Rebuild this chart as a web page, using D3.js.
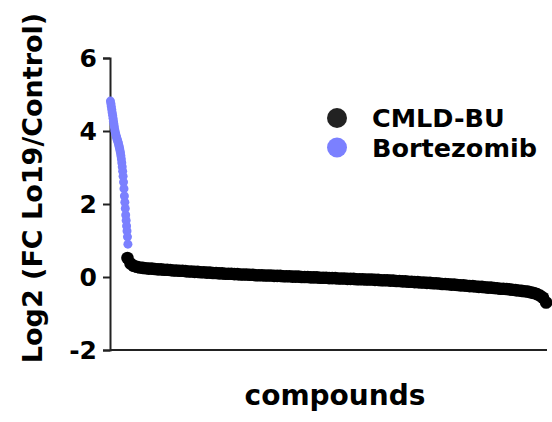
<!DOCTYPE html>
<html>
<head>
<meta charset="utf-8">
<script src="https://cdn.jsdelivr.net/npm/d3@7"></script>
<style>
  body { margin: 0; background: #fff; }
  text { font-family: "DejaVu Sans", sans-serif; font-weight: bold; }
</style>
</head>
<body>
<script>
// ranked compounds, sorted by log2 fold change
var compoundCount = 1001;
var yTicks = [-2, 0, 2, 4, 6];
var seriesNames = ['CMLD-BU', 'Bortezomib'];

// Bortezomib wells, ranks 1..41
var blueValues = [4.82,4.75,4.67,4.59,4.51,4.43,4.35,4.27,4.19,4.11,4.03,
  3.97,3.92,3.87,3.83,3.79,3.75,3.71,3.67,3.62,3.57,3.52,3.46,3.40,
  3.32,3.23,3.13,3.02,2.90,2.76,2.60,2.42,2.22,
  2.05,1.88,1.70,1.55,1.40,1.26,1.10,0.90];

// CMLD-BU compounds, every 7th rank from 40
var blackRanks = d3.range(40, 1000, 7);
var blackValues = [0.52,0.37,0.31,0.28,0.26,0.25,0.24,0.23,0.23,0.22,
  0.21,0.21,0.20,0.20,0.19,0.18,0.18,0.17,0.17,0.16,
  0.15,0.15,0.14,0.14,0.13,0.13,0.12,0.12,0.11,0.11,
  0.10,0.10,0.09,0.09,0.09,0.08,0.08,0.07,0.07,0.07,
  0.06,0.06,0.05,0.05,0.05,0.04,0.04,0.04,0.03,0.03,
  0.03,0.02,0.02,0.02,0.01,0.01,0.01,0.00,0.00,0.00,
  -0.01,-0.01,-0.01,-0.02,-0.02,-0.02,-0.03,-0.03,-0.03,-0.04,
  -0.04,-0.04,-0.05,-0.05,-0.05,-0.06,-0.06,-0.06,-0.07,-0.07,
  -0.07,-0.08,-0.08,-0.09,-0.09,-0.09,-0.10,-0.10,-0.11,-0.11,
  -0.12,-0.12,-0.13,-0.13,-0.14,-0.14,-0.15,-0.15,-0.16,-0.16,
  -0.17,-0.17,-0.18,-0.19,-0.19,-0.20,-0.21,-0.21,-0.22,-0.23,
  -0.23,-0.24,-0.25,-0.25,-0.26,-0.27,-0.27,-0.28,-0.29,-0.29,
  -0.30,-0.31,-0.32,-0.32,-0.33,-0.34,-0.35,-0.36,-0.37,-0.38,
  -0.39,-0.40,-0.42,-0.44,-0.47,-0.51,-0.57,-0.70];

var blue = '#7b80ff';

var svg = d3.select('body').append('svg').attr('width', 552).attr('height', 422);

var x = d3.scaleLinear().domain([0, compoundCount]).range([110, 547]);
var y = d3.scaleLinear().domain([-2, 6]).range([350, 58]);

// y axis
var yAxis = svg.append('g').attr('transform', 'translate(110,0)')
  .call(d3.axisLeft(y).tickValues(yTicks).tickSize(7).tickPadding(6)
    .tickFormat(function (d) { return String(d); }));
yAxis.select('.domain').attr('stroke', '#222').attr('stroke-width', 2);
yAxis.selectAll('.tick line').attr('stroke', '#222').attr('stroke-width', 2);
yAxis.selectAll('.tick text').attr('font-size', 25).attr('fill', '#000')
  .style('font-family', '"DejaVu Sans", sans-serif').style('font-weight', 'bold');

// x axis, no ticks
svg.append('line').attr('x1', 110).attr('x2', 547).attr('y1', 350).attr('y2', 350)
  .attr('stroke', '#222').attr('stroke-width', 2);

// points
svg.append('g').selectAll('circle').data(blueValues).enter().append('circle')
  .attr('cx', function (d, i) { return x(i + 1); })
  .attr('cy', function (d) { return y(d); })
  .attr('r', 4.5).attr('fill', blue);

svg.append('g').selectAll('circle').data(blackValues).enter().append('circle')
  .attr('cx', function (d, i) { return x(blackRanks[i]); })
  .attr('cy', function (d) { return y(d); })
  .attr('r', 6.3).attr('fill', '#000');

// axis titles
svg.append('text').attr('transform', 'translate(42,188) rotate(-90)')
  .attr('text-anchor', 'middle').attr('font-size', 27).text('Log2 (FC Lo19/Control)');
svg.append('text').attr('x', 335).attr('y', 405)
  .attr('text-anchor', 'middle').attr('font-size', 28).text('compounds');

// legend
var legend = svg.append('g');
legend.selectAll('circle').data(seriesNames).enter().append('circle')
  .attr('cx', 337).attr('cy', function (d, i) { return 118 + i * 29.5; })
  .attr('r', 10).attr('fill', function (d, i) { return i === 0 ? '#222' : blue; });
legend.selectAll('text').data(seriesNames).enter().append('text')
  .attr('x', 372).attr('y', function (d, i) { return 127 + i * 29.5; })
  .attr('font-size', 25.5).text(function (d) { return d; });
</script>
</body>
</html>
